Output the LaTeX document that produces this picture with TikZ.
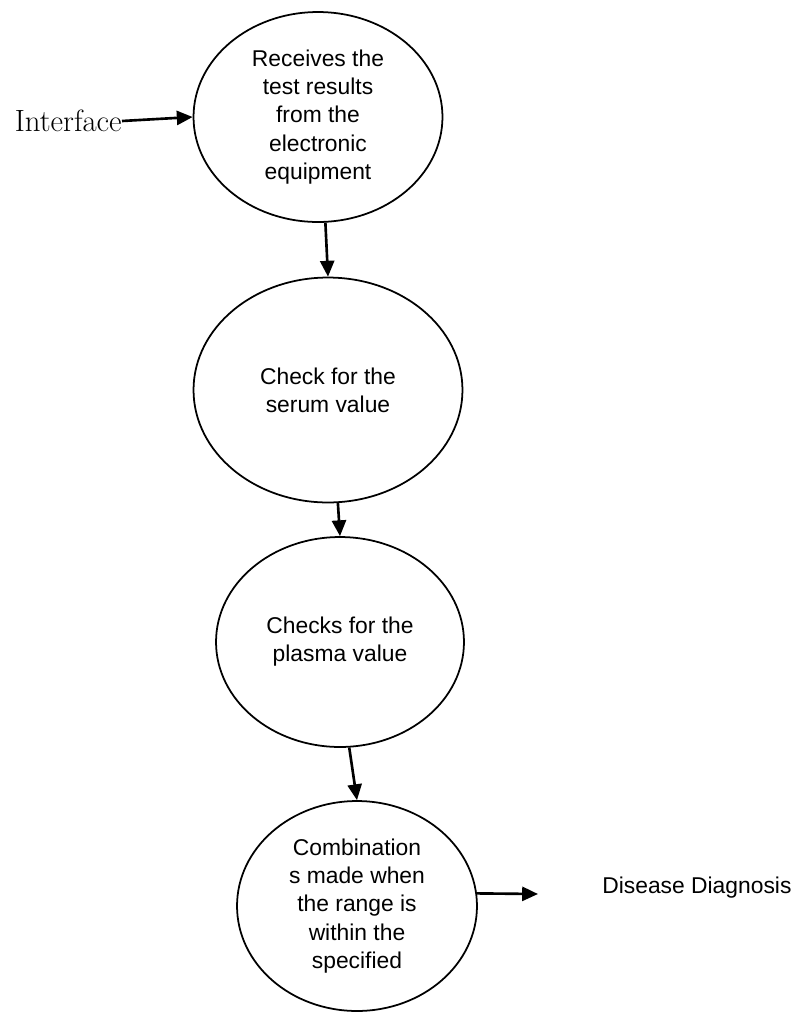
\documentclass[tikz,border=0pt]{standalone}
\usepackage{fontspec}
\setsansfont{Liberation Sans}
\usetikzlibrary{positioning,arrows.meta,shapes.geometric}
\tikzset{
  proc/.style={ellipse, draw, line width=1pt, inner sep=0pt, align=center,
               font=\sffamily\fontsize{13}{16}\selectfont},
  lbl/.style ={inner sep=0pt},
  % connector between two process bubbles
  flow/.style={line width=1.5pt, -{Triangle[length=9pt,width=8pt]}},
}
\begin{document}
\begin{tikzpicture}[x=0.02cm,y=-0.02cm]
\useasboundingbox (0,0) rectangle (805,1012);
\node[proc,minimum width=4.98cm,minimum height=4.2cm] (recv) at (318,117)
     {Receives the\\test results\\from the\\electronic\\equipment};
\node[proc,minimum width=5.38cm,minimum height=4.5cm] (serum) at (328,390)
     {Check for the\\serum value};
\node[proc,minimum width=4.96cm,minimum height=4.2cm] (plasma) at (340,642)
     {Checks for the\\plasma value};
\node[proc,minimum width=4.8cm,minimum height=4.2cm] (combo) at (357,906)
     {Combination\\s made when\\the range is\\within the\\specified};
\node[lbl,anchor=east,font=\fontsize{17.5}{20}\selectfont] (iface) at (122,121) {Interface};
\node[lbl,anchor=west,font=\sffamily\fontsize{13}{16}\selectfont] (diag) at (602,888)
     {Disease Diagnosis};
\coordinate (diagend) at (538,894);
\draw[flow] (iface.east) -- (recv.west);
\draw[flow] (recv.-86) -- (serum.north);
\draw[flow] (serum.-85) -- (plasma.north);
\draw[flow] (plasma.-85) -- (combo.north);
\draw[flow] (combo.6) -- (diagend);
\end{tikzpicture}
\end{document}
